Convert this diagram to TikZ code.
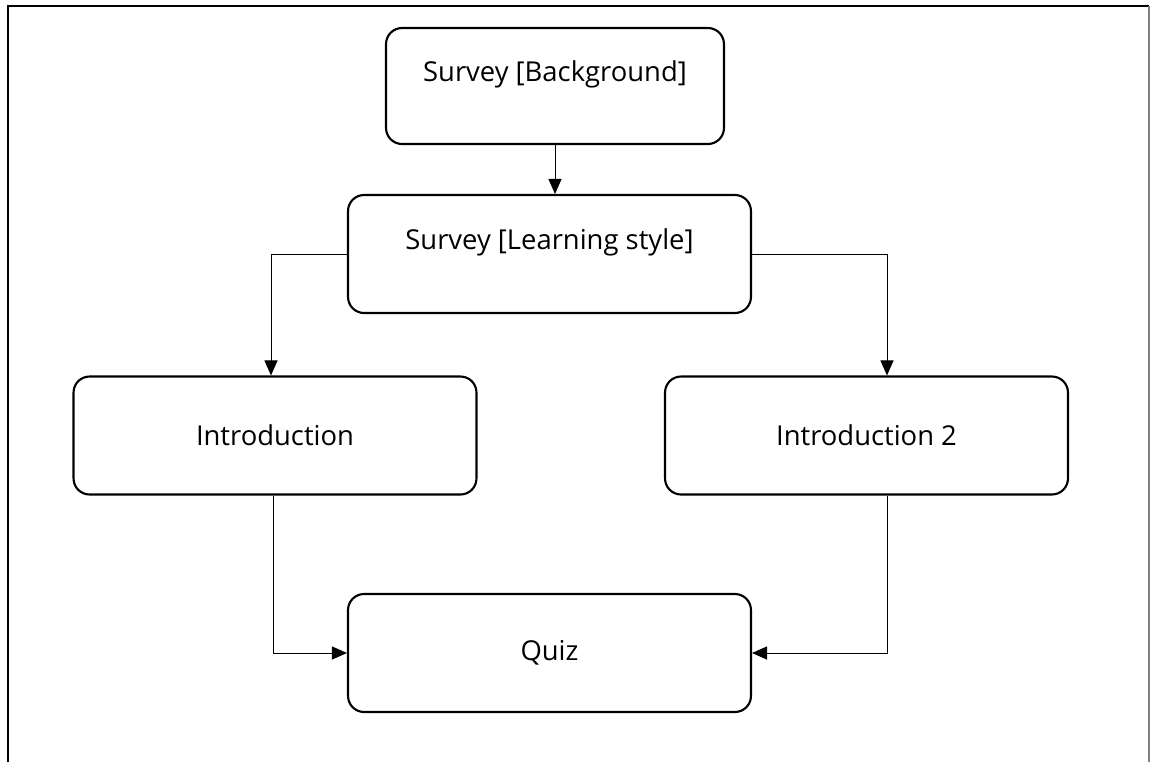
\documentclass[tikz,border=0pt]{standalone}
\usepackage{fontspec}
\setmainfont{Open Sans}
\usetikzlibrary{arrows.meta}

\tikzset{
  stepbox/.style={draw, line width=1.2pt, rounded corners=0.32cm, align=center,
    minimum width=8.06cm, minimum height=2.36cm, inner sep=0pt, font=\fontsize{15.6}{18}\selectfont},
  upper/.style={text depth=0.6cm},
  link/.style={line width=0.55pt, -{Triangle[length=0.3cm,width=0.26cm]}}
}

\begin{document}
\begin{tikzpicture}[x=0.02cm, y=-0.02cm]
% page size and frame
\useasboundingbox (0,0) rectangle (1150,762);
\draw[line width=1.4pt] (8,762) -- (8,6) -- (1149,6);
\draw[gray, line width=0.6pt] (1149,6) -- (1149,762);

% boxes
\node[stepbox, upper, minimum width=6.76cm, minimum height=2.32cm] (bg) at (555,86) {Survey [Background]};
\node[stepbox, upper] (ls) at (549.5,254) {Survey [Learning style]};
\node[stepbox] (intro) at (275,435.5) {Introduction};
\node[stepbox] (introtwo) at (866.5,435.5) {Introduction 2};
\node[stepbox] (quiz) at (549.5,653) {Quiz};

% connectors
\draw[link] (bg.south) -- (bg.south |- ls.north);
\draw[link] (ls.west) -| ([xshift=-0.08cm]intro.north);
\draw[link] (ls.east) -| ([xshift=0.41cm]introtwo.north);
\draw[link] ([xshift=-0.04cm]intro.south) |- (quiz.west);
\draw[link] ([xshift=0.41cm]introtwo.south) |- (quiz.east);
\end{tikzpicture}
\end{document}
